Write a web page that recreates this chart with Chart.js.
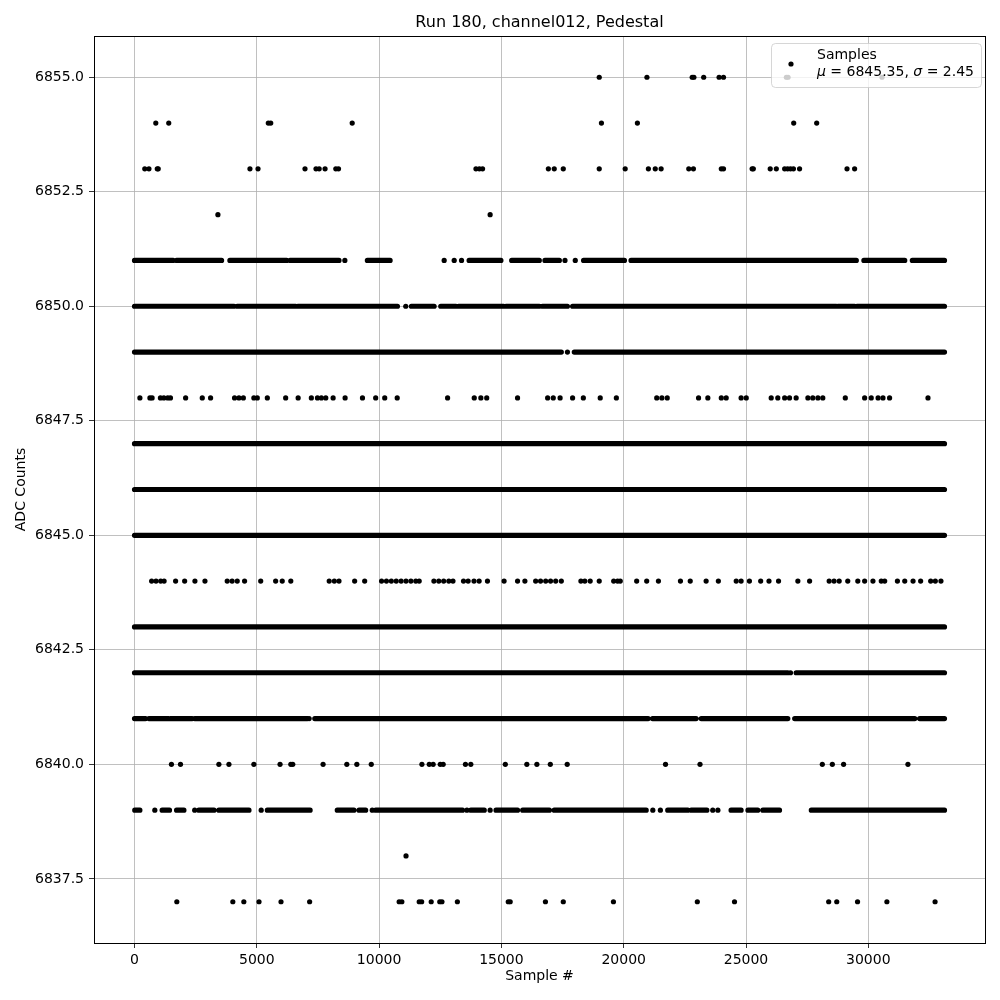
<!DOCTYPE html>
<html>
<head>
<meta charset="utf-8">
<script src="https://cdn.jsdelivr.net/npm/chart.js@4"></script>
<style>
  body { margin: 0; background: #fff; }
  #wrap { width: 1000px; height: 1000px; }
</style>
</head>
<body>
<div id="wrap"><canvas id="chart"></canvas></div>
<script>
// tick labels
const xTicks = [0, 5000, 10000, 15000, 20000, 25000, 30000];
const yTicks = [6837.5, 6840, 6842.5, 6845, 6847.5, 6850, 6852.5, 6855];

// ADC levels seen in the picture
const levels = [6855, 6854, 6853, 6852, 6851, 6850, 6849, 6848, 6847, 6846, 6845, 6844, 6843, 6842, 6841, 6840, 6839, 6838, 6837];

// single samples (sample # of each isolated point)
const pts = {
  6855: [19000, 20950, 22800, 22870, 23270, 23900, 24080, 26650, 26720, 30560],
  6854: [870, 1400, 5470, 5570, 8900, 19090, 20560, 26950, 27890],
  6853: [420, 590, 930, 970, 4720, 5050, 6970, 7420, 7550, 7790, 8230, 8340, 13960, 14100, 14230, 16920, 17160, 17530, 19000, 20060, 21010, 21290, 21530, 22660, 22850, 23990, 24080, 25250, 25300, 25990, 26240, 26580, 26700, 26820, 26940, 27190, 29130, 29440],
  6852: [3410, 14540],
  6851: [8600, 12660, 13070, 13370, 17600, 18020],
  6850: [11090],
  6849: [17700],
  6848: [220, 630, 720, 1060, 1200, 1360, 1470, 2090, 2770, 3110, 4090, 4270, 4450, 4880, 5020, 5430, 6180, 6690, 7230, 7480, 7640, 7820, 8120, 8610, 9320, 9860, 10230, 10740, 12800, 13890, 14160, 14400, 15660, 16890, 17120, 17400, 17910, 18350, 19040, 19700, 21350, 21560, 21780, 23060, 23440, 23990, 24190, 24800, 25010, 26030, 26300, 26580, 26780, 27050, 27530, 27730, 27940, 28140, 29060, 29850, 30120, 30400, 30600, 30870, 32440],
  6844: [700, 880, 1070, 1210, 1680, 2050, 2470, 2880, 3790, 3990, 4200, 4500, 5160, 5770, 6040, 6390, 7960, 8170, 8360, 9000, 9410, 10100, 10300, 10500, 10700, 10900, 11100, 11300, 11500, 11640, 12240, 12440, 12640, 12850, 13020, 13450, 13640, 13880, 14090, 14430, 15110, 15660, 15960, 16400, 16600, 16810, 17010, 17220, 17450, 18250, 18410, 18630, 19000, 19590, 19750, 19860, 20530, 20940, 21420, 22320, 22720, 23370, 23870, 24600, 24800, 25140, 25600, 25940, 26330, 27120, 27600, 28400, 28600, 28810, 29160, 29570, 29850, 30190, 30530, 30670, 31190, 31490, 31830, 32140, 32550, 32740, 32970],
  6842: [26820],
  6841: [7140],
  6840: [1510, 1880, 3450, 3860, 4880, 5950, 6390, 6470, 7710, 8680, 9090, 9680, 11750, 12050, 12210, 12500, 12620, 13530, 13750, 15160, 16040, 16450, 17000, 17690, 21710, 23120, 28120, 28530, 28990, 31620],
  6839: [830, 2460, 5180, 9720, 13590, 14540, 21190, 21500, 23640, 23850],
  6838: [11100],
  6837: [1730, 4020, 4470, 5090, 5990, 7160, 10820, 10930, 11640, 11740, 12130, 12480, 12570, 13200, 15280, 15360, 16800, 17530, 19580, 23010, 24530, 28380, 28710, 29560, 30760, 32730]
};

// stretches where samples sit shoulder to shoulder: [first, last] sample #
const runs = {
  6851: [[0, 1580], [1720, 3560], [3900, 6220], [6360, 8360], [9520, 10450], [13680, 14980], [15420, 16550], [16780, 17370], [18360, 20030], [20300, 29510], [29820, 31490], [31800, 33115]],
  6850: [[0, 4070], [4200, 6590], [6680, 10750], [11320, 12250], [12520, 13140], [13250, 15090], [15190, 16550], [16680, 17700], [17910, 28690], [28760, 29440], [29540, 33115]],
  6849: [[0, 17450], [17980, 33115]],
  6847: [[0, 33115]],
  6846: [[0, 33115]],
  6845: [[0, 33115]],
  6843: [[0, 33115]],
  6842: [[0, 26710], [27050, 33115]],
  6841: [[0, 450], [590, 1400], [1470, 2360], [2460, 7070], [7370, 21000], [21180, 22960], [23170, 26710], [26990, 31900], [32100, 33115]],
  6839: [[10, 220], [1130, 1430], [1720, 2020], [2630, 3250], [3450, 4680], [5430, 7180], [8290, 8970], [9180, 9450], [9860, 13410], [13750, 14300], [14780, 15660], [15870, 16960], [17160, 20920], [21800, 22620], [22760, 23400], [24390, 24800], [25080, 25480], [25690, 26370], [27670, 33115]]
};

const meanTxt = '6845.35';
const sigmaTxt = '2.45';

// build point lists
const pointData = [];
const runData = [];
levels.forEach(lv => {
  (pts[lv] || []).forEach(x => pointData.push({ x: x, y: lv }));
  (runs[lv] || []).forEach(r => {
    runData.push({ x: r[0], y: lv });
    runData.push({ x: r[1], y: lv });
    runData.push({ x: r[1], y: null });
  });
});

const FONT = "'DejaVu Sans', sans-serif";
const R = 2.6;

// frame + legend box drawn like matplotlib
const mplBits = {
  id: 'mplBits',
  afterDraw(chart) {
    const c = chart.ctx;
    const a = chart.chartArea;
    c.save();
    c.strokeStyle = '#000';
    c.lineWidth = 1;
    c.strokeRect(Math.round(a.left) + 0.5, Math.round(a.top) + 0.5, Math.round(a.right - a.left), Math.round(a.bottom - a.top));

    // legend
    const bx = 771, by = 43, bw = 210, bh = 44, rr = 4;
    c.beginPath();
    c.roundRect(bx + 0.5, by + 0.5, bw, bh, rr);
    c.fillStyle = 'rgba(255,255,255,0.8)';
    c.fill();
    c.strokeStyle = 'rgba(204,204,204,0.8)';
    c.lineWidth = 1;
    c.stroke();

    c.beginPath();
    c.arc(791, 64, R, 0, Math.PI * 2);
    c.fillStyle = '#000';
    c.fill();

    c.fillStyle = '#000';
    c.textBaseline = 'alphabetic';
    c.textAlign = 'left';
    c.font = '14px ' + FONT;
    c.fillText('Samples', 817, 59);
    let x = 817;
    const y2 = 76;
    const part = (t, italic) => {
      c.font = (italic ? 'italic ' : '') + '14px ' + FONT;
      c.fillText(t, x, y2);
      x += c.measureText(t).width;
    };
    part('μ', true);
    part(' = ' + meanTxt + ', ', false);
    part('σ', true);
    part(' = ' + sigmaTxt, false);
    c.restore();
  }
};

const ctx = document.getElementById('chart').getContext('2d');

const chart = new Chart(ctx, {
  type: 'scatter',
  data: {
    datasets: [
      {
        label: 'Samples',
        data: pointData,
        pointRadius: R,
        pointHoverRadius: R,
        pointBorderWidth: 0,
        pointBackgroundColor: '#000',
        borderColor: '#000'
      },
      {
        label: 'Samples (dense)',
        data: runData,
        showLine: true,
        spanGaps: false,
        pointRadius: 0,
        borderColor: '#000',
        borderWidth: R * 2,
        borderCapStyle: 'round'
      }
    ]
  },
  options: {
    responsive: true,
    maintainAspectRatio: false,
    animation: false,
    layout: { padding: { left: 0, right: 15, top: 0, bottom: 0 } },
    plugins: {
      legend: { display: false },
      tooltip: { enabled: false },
      title: {
        display: true,
        fullSize: false,
        text: 'Run 180, channel012, Pedestal',
        color: '#000',
        font: { family: FONT, size: 16, weight: 'normal', lineHeight: 1.2 },
        padding: { top: 13.2, bottom: 3.6 }
      }
    },
    scales: {
      x: {
        type: 'linear',
        min: -1656,
        max: 34771,
        afterFit: s => { s.height = 57; },
        afterBuildTicks: s => { s.ticks = xTicks.map(v => ({ value: v })); },
        ticks: {
          color: '#000',
          font: { family: FONT, size: 14 },
          padding: 4,
          maxRotation: 0,
          callback: v => String(v)
        },
        grid: { color: '#b0b0b0', lineWidth: 0.8, tickColor: '#000', tickLength: 5 },
        border: { color: '#000', width: 1 },
        title: {
          display: true,
          text: 'Sample #',
          color: '#000',
          font: { family: FONT, size: 14, lineHeight: 1.2 },
          padding: { top: 0, bottom: 15 }
        }
      },
      y: {
        type: 'linear',
        min: 6836.1,
        max: 6855.9,
        afterFit: s => { s.width = 94; },
        afterBuildTicks: s => { s.ticks = yTicks.map(v => ({ value: v })); },
        ticks: {
          color: '#000',
          font: { family: FONT, size: 14 },
          padding: 5,
          callback: v => Number(v).toFixed(1)
        },
        grid: { color: '#b0b0b0', lineWidth: 0.8, tickColor: '#000', tickLength: 5 },
        border: { color: '#000', width: 1 },
        title: {
          display: true,
          text: 'ADC Counts',
          color: '#000',
          font: { family: FONT, size: 14, lineHeight: 1.2 },
          padding: { top: 12.6, bottom: 0 }
        }
      }
    }
  },
  plugins: [mplBits]
});
</script>
</body>
</html>
